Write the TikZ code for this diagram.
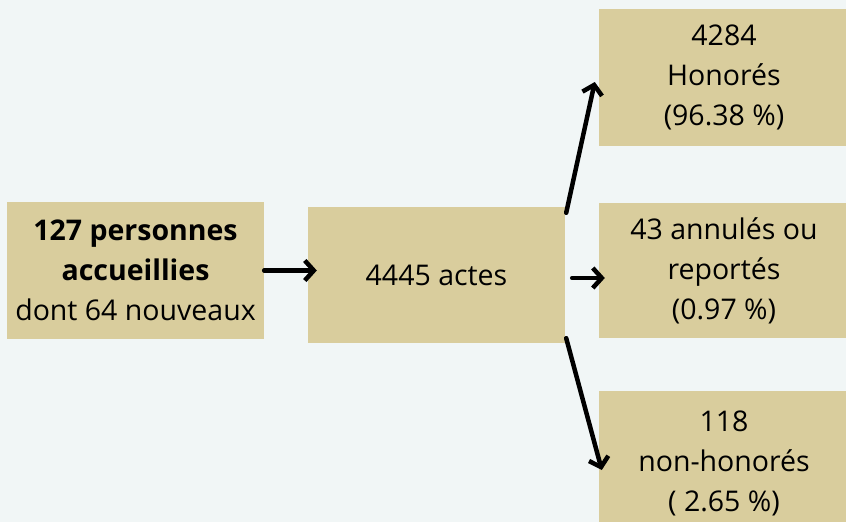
\documentclass[tikz,border=0pt]{standalone}
\usepackage{fontspec}
\setmainfont{Open Sans}
\usetikzlibrary{arrows.meta}
\definecolor{bgcol}{RGB}{241,246,246}
\definecolor{boxcol}{RGB}{217,205,157}

\begin{document}
\begin{tikzpicture}[x=1pt, y=-1pt,
  box/.style={rectangle, fill=boxcol, inner sep=0pt, align=center,
    minimum width=257pt, minimum height=137pt, font=\fontsize{28.5}{40}\selectfont},
  arr/.style={-{Straight Barb[length=9pt,width=20pt]}, line width=4.5pt, line cap=round}]
\fill[bgcol] (0,0) rectangle (846,522);
\useasboundingbox (0,0) rectangle (846,522);

\node[box] (pers) at (135.5,270.5) {\textbf{127 personnes}\\\textbf{accueillies}\\dont 64 nouveaux};
\node[box, minimum height=136pt] (actes) at (436.5,275) {4445 actes};

\node[box, minimum width=250pt] (honores) at (724,77.5) {4284\\Honorés\\(96.38 \%)};
\node[box, minimum width=250pt, minimum height=135pt] (annules) at (724,270.5) {43 annulés ou\\reportés\\(0.97 \%)};
\node[box, minimum width=250pt, minimum height=145pt] (nonhon) at (724,463.5) {118\\non-honorés\\( 2.65 \%)};

\draw[arr, shorten >=-9pt] (pers.east) -- (pers.east -| actes.west);
\draw[arr] ([xshift=1pt,yshift=-6pt]actes.north east) -- ([xshift=-4pt,yshift=-4.5pt]honores.west);
\draw[arr] ([xshift=7pt,yshift=-3pt]actes.east) -- ([xshift=6pt,yshift=-7.5pt]annules.west);
\draw[arr] ([xshift=1pt,yshift=5pt]actes.south east) -- ([xshift=3pt,yshift=-6.5pt]nonhon.west);

\end{tikzpicture}
\end{document}
